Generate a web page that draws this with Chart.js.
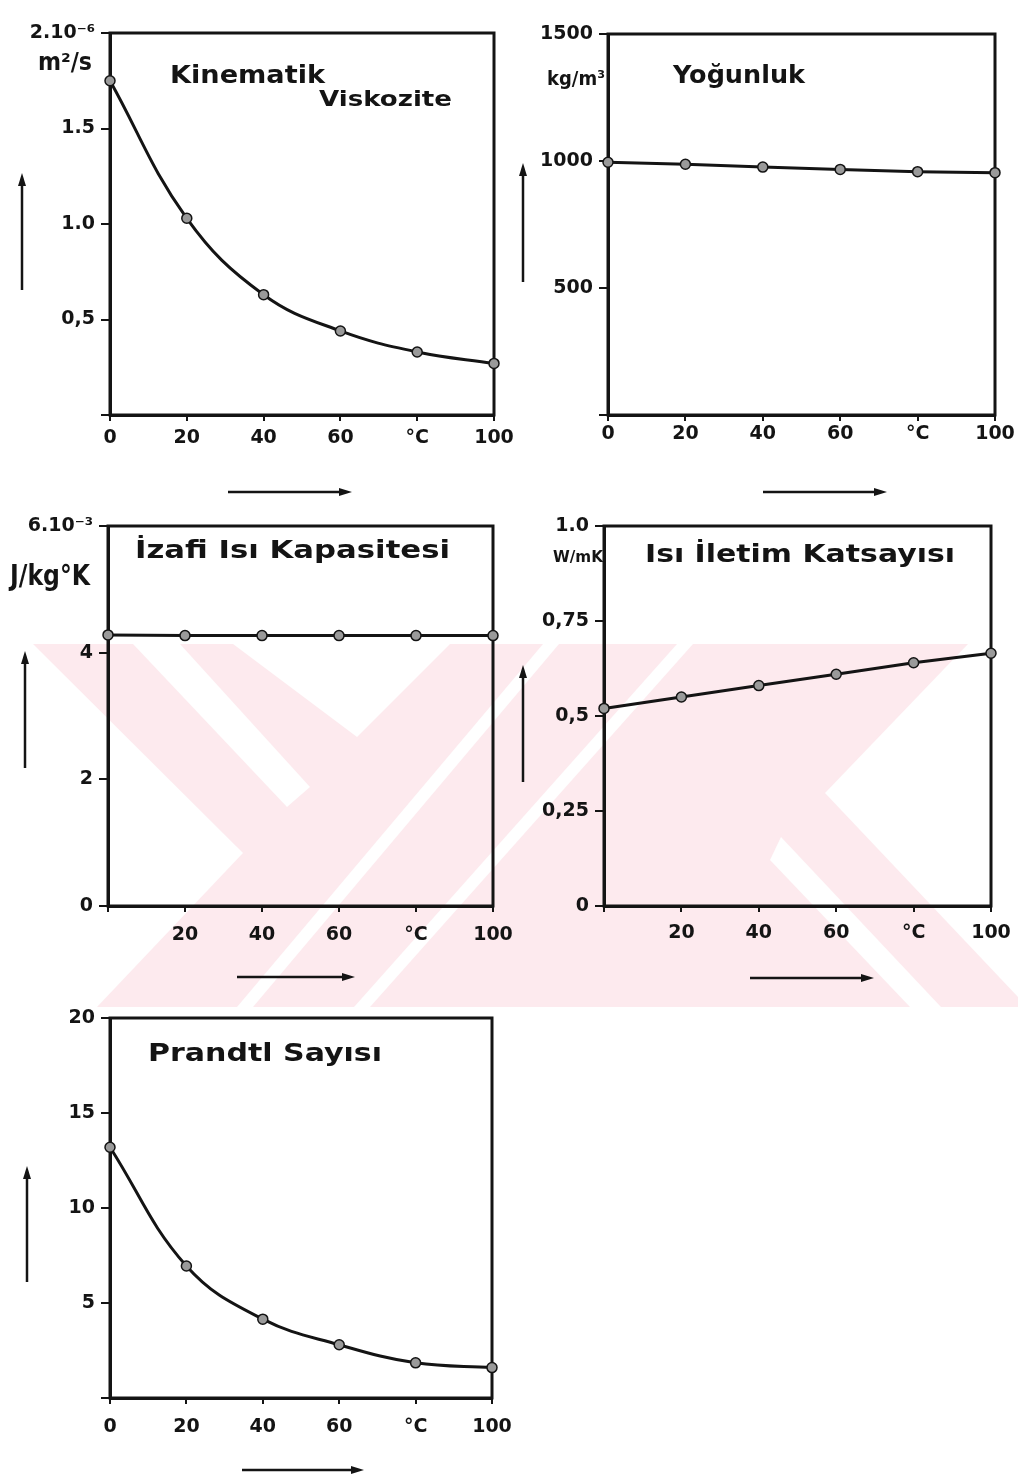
<!DOCTYPE html>
<html>
<head>
<meta charset="utf-8">
<script src="https://cdn.jsdelivr.net/npm/chart.js@4.4.0/dist/chart.umd.min.js"></script>
<style>
html, body { margin: 0; padding: 0; background: #fff; }
#page { position: relative; width: 1018px; height: 1478px; overflow: hidden; }
#page canvas { position: absolute; }
</style>
</head>
<body>
<div id="page"><canvas id="wm" width="1018" height="1478" style="left:0;top:0"></canvas></div>
<script>
// water properties vs temperature
var temps = [0, 20, 40, 60, 80, 100];
var kinViscosity = [1.75, 1.03, 0.63, 0.44, 0.33, 0.27];   // x 10^-6 m2/s
var density = [995, 987, 976, 967, 958, 954];              // kg/m3
var heatCapacity = [4.28, 4.27, 4.27, 4.27, 4.27, 4.27];   // x 10^3 J/kgK
var conductivity = [0.52, 0.55, 0.58, 0.61, 0.64, 0.665];  // W/mK
var prandtl = [13.2, 6.95, 4.15, 2.8, 1.85, 1.6];

var xTicksWithZero = ['0', '20', '40', '60', '°C', '100'];
var xTicksNoZero = ['', '20', '40', '60', '°C', '100'];

var yTicksVisc = [0, 0.5, 1, 1.5, 2];
var yLabelsVisc = ['', '0,5', '1.0', '1.5', '2.10⁻⁶'];
var yTicksDens = [0, 500, 1000, 1500];
var yLabelsDens = ['', '500', '1000', '1500'];
var yTicksCap = [0, 2, 4, 6];
var yLabelsCap = ['0', '2', '4', '6.10⁻³'];
var yTicksCond = [0, 0.25, 0.5, 0.75, 1];
var yLabelsCond = ['0', '0,25', '0,5', '0,75', '1.0'];
var yTicksPr = [0, 5, 10, 15, 20];
var yLabelsPr = ['', '5', '10', '15', '20'];

var INK = '#141414';
var FONT = '"DejaVu Sans"';

// faint pink watermark behind the sheet
function drawWatermark() {
    var ctx = document.getElementById('wm').getContext('2d');
    ctx.fillStyle = '#fdeaee';
    ctx.fillRect(0, 644, 1018, 363);
    ctx.fillStyle = '#fff';
    var holes = [
        [[0, 644], [33, 644], [243, 853], [97, 1007], [0, 1007]],
        [[133, 644], [180, 644], [310, 787], [287, 807]],
        [[233, 644], [450, 644], [357, 737]],
        [[543, 644], [559, 644], [253, 1007], [237, 1007]],
        [[677, 644], [693, 644], [370, 1007], [354, 1007]],
        [[825, 793], [968, 644], [1018, 644], [1018, 997]],
        [[781, 837], [941, 1007], [910, 1007], [770, 860]]
    ];
    holes.forEach(function (poly) {
        ctx.beginPath();
        ctx.moveTo(poly[0][0], poly[0][1]);
        for (var i = 1; i < poly.length; i++) ctx.lineTo(poly[i][0], poly[i][1]);
        ctx.closePath();
        ctx.fill();
    });
}

function tickLookup(values, labels) {
    return function (v) {
        for (var i = 0; i < values.length; i++) {
            if (Math.abs(values[i] - v) < 1e-9) return labels[i];
        }
        return '';
    };
}

function makeDeco(p) {
    return {
        id: 'deco',
        beforeDatasetsDraw: function (chart) {
            var a = chart.chartArea, ctx = chart.ctx;
            ctx.save();
            ctx.strokeStyle = INK;
            ctx.lineWidth = 3;
            ctx.strokeRect(a.left, a.top, a.right - a.left, a.bottom - a.top);
            ctx.restore();
        },
        afterDraw: function (chart) {
            var ctx = chart.ctx;
            ctx.save();
            ctx.fillStyle = INK;
            ctx.strokeStyle = INK;
            p.texts.forEach(function (t) {
                ctx.font = 'bold ' + t.size + 'px ' + FONT;
                var w = ctx.measureText(t.text).width;
                ctx.save();
                ctx.translate(t.x - p.cl, t.y - p.ct);
                ctx.scale(t.w / w, 1);
                ctx.textBaseline = 'middle';
                ctx.fillText(t.text, 0, 0);
                ctx.restore();
            });
            p.arrows.forEach(function (ar) {
                var x1 = ar[0] - p.cl, y1 = ar[1] - p.ct, x2 = ar[2] - p.cl, y2 = ar[3] - p.ct;
                var ang = Math.atan2(y2 - y1, x2 - x1);
                ctx.lineWidth = 2.5;
                ctx.beginPath();
                ctx.moveTo(x1, y1);
                ctx.lineTo(x2 - 8 * Math.cos(ang), y2 - 8 * Math.sin(ang));
                ctx.stroke();
                ctx.beginPath();
                ctx.moveTo(x2, y2);
                ctx.lineTo(x2 - 13 * Math.cos(ang) + 4 * Math.sin(ang), y2 - 13 * Math.sin(ang) - 4 * Math.cos(ang));
                ctx.lineTo(x2 - 13 * Math.cos(ang) - 4 * Math.sin(ang), y2 - 13 * Math.sin(ang) + 4 * Math.cos(ang));
                ctx.closePath();
                ctx.fill();
            });
            ctx.restore();
        }
    };
}

function renderPanel(p) {
    var canvas = document.createElement('canvas');
    canvas.width = p.cw;
    canvas.height = p.ch;
    canvas.style.left = p.cl + 'px';
    canvas.style.top = p.ct + 'px';
    canvas.style.width = p.cw + 'px';
    canvas.style.height = p.ch + 'px';
    document.getElementById('page').appendChild(canvas);

    var yW = 96, xH = 40;
    var area = p.area; // left, top, right, bottom in page px
    var tickFont = { family: FONT, weight: 'bold', size: 19 };

    new Chart(canvas, {
        type: 'line',
        data: {
            datasets: [{
                data: temps.map(function (t, i) { return { x: t, y: p.values[i] }; }),
                borderColor: INK,
                borderWidth: 3,
                pointRadius: 5,
                pointBackgroundColor: '#9a9a9a',
                pointBorderColor: INK,
                pointBorderWidth: 1.5,
                tension: p.smooth ? 0.4 : 0,
                clip: false
            }]
        },
        options: {
            responsive: false,
            devicePixelRatio: 1,
            animation: false,
            layout: {
                padding: {
                    left: area[0] - p.cl - yW,
                    top: area[1] - p.ct,
                    right: p.cl + p.cw - area[2],
                    bottom: p.ct + p.ch - area[3] - xH
                }
            },
            plugins: { legend: { display: false }, tooltip: { enabled: false } },
            scales: {
                x: {
                    type: 'linear',
                    min: 0,
                    max: 100,
                    afterFit: function (s) { s.height = xH; s.paddingLeft = 0; s.paddingRight = 0; },
                    afterBuildTicks: function (s) { s.ticks = temps.map(function (t) { return { value: t }; }); },
                    ticks: {
                        color: INK,
                        font: tickFont,
                        padding: p.xPad,
                        maxRotation: 0,
                        autoSkip: false,
                        callback: tickLookup(temps, p.xLabels)
                    },
                    grid: { drawOnChartArea: false, drawTicks: true, tickLength: 6, color: INK, lineWidth: 2 },
                    border: { display: true, color: INK, width: 3 }
                },
                y: {
                    type: 'linear',
                    min: 0,
                    max: p.yTicks[p.yTicks.length - 1],
                    afterFit: function (s) { s.width = yW; s.paddingTop = 0; s.paddingBottom = 0; },
                    afterBuildTicks: function (s) { s.ticks = p.yTicks.map(function (t) { return { value: t }; }); },
                    ticks: {
                        color: INK,
                        font: tickFont,
                        padding: 6,
                        autoSkip: false,
                        callback: tickLookup(p.yTicks, p.yLabels)
                    },
                    grid: { drawOnChartArea: false, drawTicks: true, tickLength: 9, color: INK, lineWidth: 2 },
                    border: { display: true, color: INK, width: 3 }
                }
            }
        },
        plugins: [makeDeco(p)]
    });
}

drawWatermark();

renderPanel({
    cl: 0, ct: 0, cw: 530, ch: 505, area: [110, 33, 494, 415],
    values: kinViscosity, smooth: true, xPad: 6,
    xLabels: xTicksWithZero, yTicks: yTicksVisc, yLabels: yLabelsVisc,
    texts: [
        { text: 'Kinematik', x: 170, y: 76, w: 155, size: 25 },
        { text: 'Viskozite', x: 319, y: 100, w: 133, size: 22 },
        { text: 'm²/s', x: 38, y: 64, w: 54, size: 24 }
    ],
    arrows: [[22, 290, 22, 173], [228, 492, 352, 492]]
});

renderPanel({
    cl: 505, ct: 0, cw: 513, ch: 505, area: [608, 34, 995, 415],
    values: density, smooth: false, xPad: 2,
    xLabels: xTicksWithZero, yTicks: yTicksDens, yLabels: yLabelsDens,
    texts: [
        { text: 'Yoğunluk', x: 673, y: 76, w: 132, size: 25 },
        { text: 'kg/m³', x: 547, y: 80, w: 58, size: 20 }
    ],
    arrows: [[523, 282, 523, 163], [763, 492, 887, 492]]
});

renderPanel({
    cl: 0, ct: 495, cw: 530, ch: 500, area: [108, 526, 493, 906],
    values: heatCapacity, smooth: false, xPad: 12,
    xLabels: xTicksNoZero, yTicks: yTicksCap, yLabels: yLabelsCap,
    texts: [
        { text: 'İzafi Isı Kapasitesi', x: 135, y: 552, w: 315, size: 24 },
        { text: 'J/kg°K', x: 10, y: 578, w: 80, size: 28 }
    ],
    arrows: [[25, 768, 25, 651], [237, 977, 355, 977]]
});

renderPanel({
    cl: 505, ct: 495, cw: 513, ch: 500, area: [604, 526, 991, 906],
    values: conductivity, smooth: false, xPad: 10,
    xLabels: xTicksNoZero, yTicks: yTicksCond, yLabels: yLabelsCond,
    texts: [
        { text: 'Isı İletim Katsayısı', x: 645, y: 556, w: 310, size: 24 },
        { text: 'W/mK', x: 553, y: 558, w: 50, size: 16 }
    ],
    arrows: [[523, 782, 523, 665], [750, 978, 874, 978]]
});

renderPanel({
    cl: 0, ct: 990, cw: 530, ch: 488, area: [110, 1018, 492, 1398],
    values: prandtl, smooth: true, xPad: 12,
    xLabels: xTicksWithZero, yTicks: yTicksPr, yLabels: yLabelsPr,
    texts: [
        { text: 'Prandtl Sayısı', x: 148, y: 1055, w: 234, size: 24 }
    ],
    arrows: [[27, 1282, 27, 1166], [242, 1470, 364, 1470]]
});
</script>
</body>
</html>
